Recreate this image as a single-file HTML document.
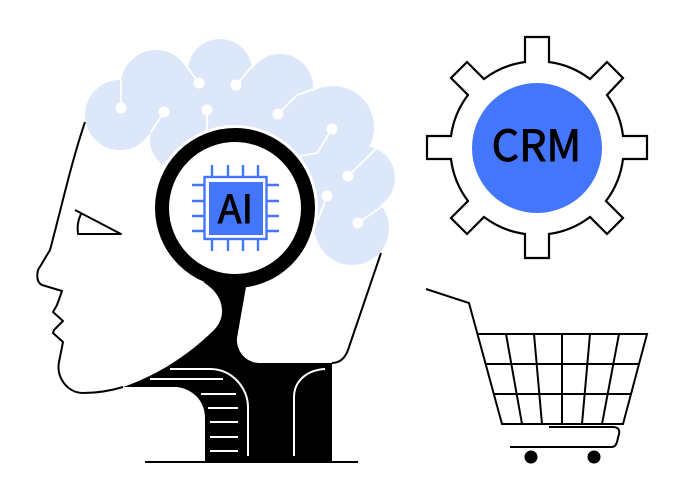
<!DOCTYPE html>
<html><head><meta charset="utf-8"><style>
html,body{margin:0;padding:0;background:#fff}
svg{display:block}
text{font-family:"Noto Sans CJK JP","Liberation Sans",sans-serif}
</style></head><body>
<svg width="685" height="500" viewBox="0 0 685 500" xmlns="http://www.w3.org/2000/svg">
<g fill="#dce7f9">
<circle cx="120" cy="115" r="35"/><circle cx="156" cy="85" r="35"/><circle cx="220" cy="71" r="32"/>
<circle cx="280" cy="87" r="33"/><circle cx="333" cy="127" r="41"/><circle cx="363" cy="178" r="32"/>
<circle cx="352" cy="228" r="37"/><circle cx="180" cy="140" r="30"/>
<polygon points="125,100 156,85 220,71 280,87 333,127 363,178 352,228 315,235 235,200 170,160 150,125"/>
</g>
<g fill="none" stroke="#fff" stroke-width="1.8">
<path d="M121 80V108M182 60L199 83M255 63L236 85M317 88L297 95L278 114M332 129L317 153L300 156M378 147L348 176M387 203L358 223M327 196L318 220M164 112L151 132M207 110V130"/>
</g>
<g fill="#fff">
<circle cx="121" cy="108" r="5.5"/><circle cx="199" cy="83" r="5.5"/><circle cx="236" cy="85" r="5.5"/>
<circle cx="278" cy="114" r="5.5"/><circle cx="332" cy="129" r="5.5"/><circle cx="348" cy="176" r="5.5"/>
<circle cx="358" cy="223" r="5.5"/><circle cx="327" cy="196" r="5.5"/><circle cx="164" cy="112" r="5.5"/><circle cx="207" cy="110" r="5.5"/>
</g>
<circle cx="235" cy="208" r="83" fill="#fff"/>
<path d="M203 282C216 290 222 300 222 311C222 320 218 326 213 331C185 358 155 376 123 387H177C192 389 205 400 205 418V462H332V363H260C245 363 236 350 237 338L246 287Z" fill="#000"/>
<circle cx="235" cy="208" r="73" fill="#fff" stroke="#000" stroke-width="14"/>
<g fill="none" stroke="#000" stroke-width="2" stroke-linejoin="round">
<path d="M85 122C72 160 62 205 50 250L38 270C36 279 38 283 42 285L62 291L57 305L53 312L63 321L54 330L53 333L63 342L59 362C56 378 68 393 83 393C97 393 110 391 123 387"/>
<path d="M381 253L348 350C345 358 340 363 332 363"/>
<path d="M75 210L121 234H78C77 227 78 220 81 214"/>
<path d="M145 462H358"/>
</g>
<g fill="none" stroke="#fff" stroke-width="2">
<path d="M170 369H210C232 369 248 388 248 407V456"/>
<path d="M150 379H223M201 394H236M208 408H238M210 422H238M210 437H238M210 451H238"/>
<path d="M325 369C307 370 294 381 294 397V456"/>
</g>
<g fill="none" stroke="#4476fb" stroke-width="2.4">
<rect x="204.5" y="177" width="62" height="62"/>
<path d="M212 165V177M228 165V177M243 165V177M258 165V177M212 239V251M228 239V251M243 239V251M258 239V251M192 185H204M192 201H204M192 216H204M192 231H204M267 185H279M267 201H279M267 216H279M267 231H279"/>
</g>
<rect x="209" y="182" width="54" height="53" fill="#4476fb"/>
<text x="235.5" y="223" font-size="39" text-anchor="middle" fill="#000" stroke="#000" stroke-width="0.9">AI</text>
<path d="M525 62V37H549V62A87 87 0 0 1 590 79L607 62L623 78L607 95A87 87 0 0 1 623 136H647V159H623A87 87 0 0 1 606 201L623 218L607 234L590 217A87 87 0 0 1 549 234V258H525V234A87 87 0 0 1 484 217L467 234L451 218L468 201A87 87 0 0 1 451 159H427V136H451A87 87 0 0 1 468 95L451 78L467 62L484 79A87 87 0 0 1 525 62Z" fill="#fff" stroke="#000" stroke-width="2.2" stroke-linejoin="miter"/>
<circle cx="537" cy="148" r="65" fill="#4476fb"/>
<text x="536.5" y="161" font-size="43" text-anchor="middle" fill="#000" stroke="#000" stroke-width="0.9">CRM</text>
<g fill="none" stroke="#000" stroke-width="2">
<path d="M426 289L469 303L502 424H623L647 334H477"/>
<path d="M486 364H639M494 394H631"/>
<path d="M506 334L522 424M534 334L542 424M562 334V424M590 334L582 424M619 334L602 424"/>
<path d="M549 427H613C618 427 620 430 619 434L617 442C616 445 615 447 611 447H510"/>
</g>
<circle cx="531" cy="457" r="6.5" fill="#000"/><circle cx="594" cy="457" r="6.5" fill="#000"/>
</svg>
</body></html>
